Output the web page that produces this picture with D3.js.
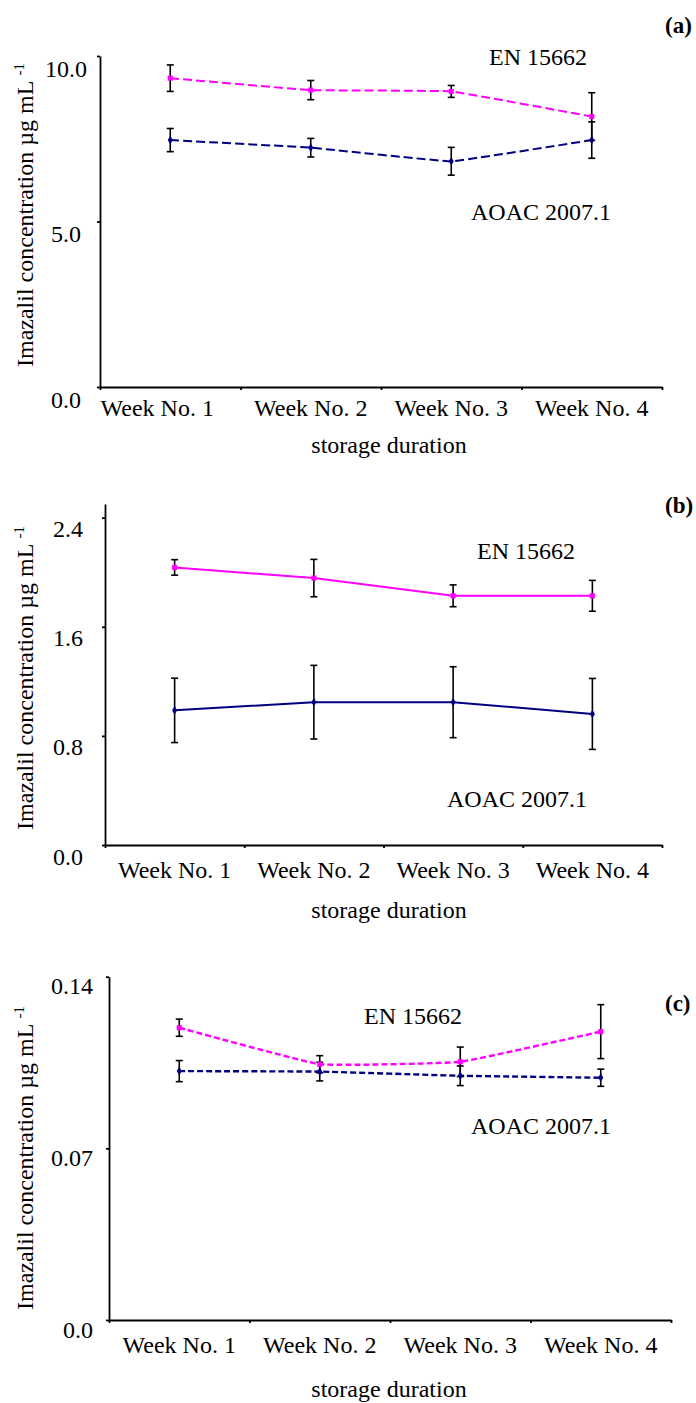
<!DOCTYPE html>
<html>
<head>
<meta charset="utf-8">
<script src="https://cdn.jsdelivr.net/npm/d3@7"></script>
<style>
  body { margin: 0; background: #fff; }
  svg { display: block; font-family: "Liberation Serif", "Times New Roman", serif; }
  .axis path, .axis line { stroke: #000; stroke-width: 1.8; }
  .axis text { font-family: "Liberation Serif", serif; font-size: 24px; fill: #000; }
</style>
</head>
<body>
<div class="container"></div>
<script>
const WIDTH = 696;
const HEIGHT = 1403;

// categories
var weeks = ["Week No. 1", "Week No. 2", "Week No. 3", "Week No. 4"];

// (a)
var enA = [9.33, 8.97, 8.93, 8.17];
var enAErr = [0.40, 0.29, 0.18, 0.72];
var aoacA = [7.46, 7.23, 6.82, 7.46];
var aoacAErr = [0.35, 0.28, 0.42, 0.55];
var ticksA = [0, 5, 10];

// (b)
var enB = [2.035, 1.957, 1.827, 1.827];
var enBErr = [0.057, 0.137, 0.08, 0.113];
var aoacB = [0.987, 1.047, 1.047, 0.961];
var aoacBErr = [0.236, 0.27, 0.26, 0.26];
var ticksB = [0, 0.8, 1.6, 2.4];

// (c)
var enC = [0.1192, 0.1043, 0.1053, 0.1176];
var enCErr = [0.0035, 0.0035, 0.006, 0.011];
var aoacC = [0.1015, 0.1013, 0.0996, 0.0988];
var aoacCErr = [0.0043, 0.0038, 0.004, 0.0035];
var ticksC = [0, 0.07, 0.14];

var seriesNames = ["EN 15662", "AOAC 2007.1"];
var yTitle = "Imazalil concentration µg mL ";
var xTitle = "storage duration";

var translate = function(x, y){
  return 'translate('+x+','+y+')';
};

var svg = d3.select('.container').append('svg')
  .attr('width', WIDTH)
  .attr('height', HEIGHT);

var drawPanel = function (p) {
  var x = d3.scaleBand().domain(weeks).range([p.left, p.right]);
  var edges = d3.scaleLinear().domain([0, weeks.length]).range([p.left, p.right]);
  var y = d3.scaleLinear().domain(p.domain).range([p.bottom, p.top]);

  // y axis
  var ya = svg.append('g').classed('axis', true)
    .attr('transform', translate(p.left, 0))
    .call(d3.axisLeft(y).tickValues(p.ticks).tickSize(3).tickSizeOuter(0).tickFormat(p.fmt));
  ya.selectAll('text')
    .attr('x', p.tickLabelX - p.left)
    .attr('dy', p.tickDy)
    .attr('text-anchor', p.tickAnchor);

  // x axis: tick marks at band edges, labels at band centres
  svg.append('g').classed('axis', true)
    .attr('transform', translate(0, p.bottom))
    .call(d3.axisBottom(edges).tickValues(d3.range(weeks.length + 1)).tickSize(3).tickSizeOuter(0).tickFormat(''));
  var xa = svg.append('g').classed('axis', true)
    .attr('transform', translate(0, p.bottom))
    .call(d3.axisBottom(x).tickSize(0).tickPadding(0));
  xa.select('.domain').remove();
  xa.selectAll('text')
    .attr('y', p.xLabelDy)
    .attr('dy', 0)
    .attr('dx', function(d, i){ return i === 0 ? p.firstDx : 0; });

  // titles
  svg.append('text')
    .attr('x', 389).attr('y', p.xTitleY)
    .attr('text-anchor', 'middle')
    .style('font-size', '24px')
    .text(xTitle);

  var yt = svg.append('text')
    .attr('transform', translate(33, p.yTitleC) + ' rotate(-90)')
    .attr('text-anchor', 'middle')
    .style('font-size', '24px')
    .text(yTitle);
  yt.append('tspan').attr('dy', -9).style('font-size', '15px').text('-1');

  svg.append('text')
    .attr('x', 665).attr('y', p.letterY)
    .style('font-size', '23px').style('font-weight', 'bold')
    .text(p.letter);

  var cx = function(d, i){ return x(weeks[i]) + x.bandwidth() / 2; };

  var series = [
    {vals: p.en, errs: p.err1, color: '#ff00ff', sym: d3.symbolSquare, size: 26},
    {vals: p.aoac, errs: p.err2, color: '#000080', sym: d3.symbolDiamond, size: 22}
  ];

  var line = d3.line()
    .curve(p.curve)
    .x(cx)
    .y(function(d){ return y(d); });

  series.forEach(function(s){
    svg.append('path')
      .attr('d', line(s.vals))
      .attr('fill', 'none')
      .attr('stroke', s.color)
      .attr('stroke-width', p.lineW)
      .attr('stroke-dasharray', p.dash);
  });

  series.forEach(function(s){
    var g = svg.append('g');
    s.vals.forEach(function(v, i){
      var xx = cx(v, i);
      var lo = y(v - s.errs[i]), hi = y(v + s.errs[i]);
      g.append('line').attr('x1', xx).attr('x2', xx).attr('y1', lo).attr('y2', hi)
        .attr('stroke', '#000').attr('stroke-width', 1.6);
      [lo, hi].forEach(function(yy){
        g.append('line').attr('x1', xx - 3.5).attr('x2', xx + 3.5).attr('y1', yy).attr('y2', yy)
          .attr('stroke', '#000').attr('stroke-width', 1.6);
      });
    });
  });

  series.forEach(function(s){
    svg.selectAll(null)
      .data(s.vals)
      .enter().append('path')
      .attr('d', d3.symbol().type(s.sym).size(s.size))
      .attr('fill', s.color)
      .attr('transform', function(d, i){ return translate(cx(d, i), y(d)); });
  });

  svg.append('text').attr('x', p.enLabel[0]).attr('y', p.enLabel[1])
    .attr('text-anchor', 'middle').style('font-size', '24px').text(seriesNames[0]);
  svg.append('text').attr('x', p.aoacLabel[0]).attr('y', p.aoacLabel[1])
    .attr('text-anchor', 'middle').style('font-size', '24px').text(seriesNames[1]);
};

drawPanel({
  letter: '(a)', letterY: 33,
  left: 100, right: 662, bottom: 387, top: 56, domain: [0, 10],
  ticks: ticksA, fmt: d3.format('.1f'), tickLabelX: 66, tickAnchor: 'middle', tickDy: 20,
  xLabelDy: 29, firstDx: -13, xTitleY: 453, yTitleC: 215,
  en: enA, err1: enAErr, aoac: aoacA, err2: aoacAErr,
  curve: d3.curveCardinal.tension(0.8), lineW: 2, dash: '9,4',
  enLabel: [538, 65], aoacLabel: [541, 220]
});

drawPanel({
  letter: '(b)', letterY: 513,
  left: 105, right: 662, bottom: 845, top: 504, domain: [0, 2.5],
  ticks: ticksB, fmt: d3.format('.1f'), tickLabelX: 68, tickAnchor: 'middle', tickDy: 19,
  xLabelDy: 33, firstDx: 0, xTitleY: 918, yTitleC: 678,
  en: enB, err1: enBErr, aoac: aoacB, err2: aoacBErr,
  curve: d3.curveLinear, lineW: 2, dash: null,
  enLabel: [526, 559], aoacLabel: [517, 807]
});

drawPanel({
  letter: '(c)', letterY: 1011,
  left: 109, right: 671, bottom: 1320, top: 976.7, domain: [0, 0.14],
  ticks: ticksC, fmt: function(d){ return d === 0 ? '0.0' : d3.format('.2f')(d); },
  tickLabelX: 93, tickAnchor: 'end', tickDy: 17,
  xLabelDy: 33, firstDx: 0, xTitleY: 1397, yTitleC: 1158,
  en: enC, err1: enCErr, aoac: aoacC, err2: aoacCErr,
  curve: d3.curveCardinal.tension(0.7), lineW: 2.4, dash: '6,3',
  enLabel: [413, 1024], aoacLabel: [541, 1134]
});
</script>
</body>
</html>
